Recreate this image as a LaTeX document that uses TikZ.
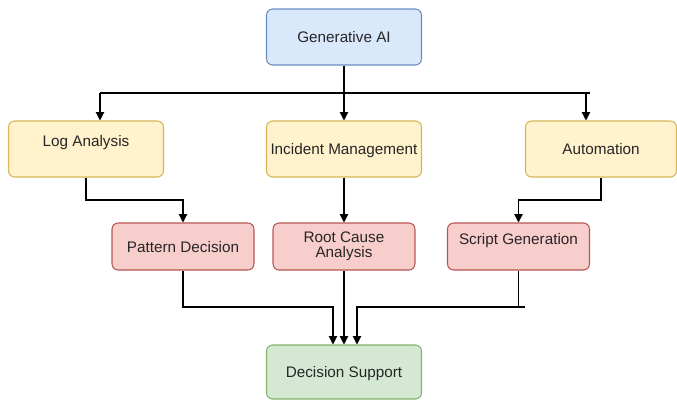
\documentclass[tikz,border=0pt]{standalone}
\usepackage{fontspec}
\setmainfont{Liberation Sans}
\usetikzlibrary{arrows.meta}
\definecolor{blueF}{HTML}{DAE8FC}\definecolor{blueD}{HTML}{6C8EBF}
\definecolor{yelF}{HTML}{FFF2CC}\definecolor{yelD}{HTML}{D6B656}
\definecolor{redF}{HTML}{F8CECC}\definecolor{redD}{HTML}{B85450}
\definecolor{grnF}{HTML}{D5E8D4}\definecolor{grnD}{HTML}{82B366}
\begin{document}
\begin{tikzpicture}[x=0.02cm,y=-0.02cm,
  box/.style={draw, rounded corners=3.5pt, line width=0.6pt, align=center,
    font=\fontsize{8.7}{8.6}\selectfont, text=black!85, inner sep=1pt},
  big/.style={box, minimum width=3.1cm, minimum height=1.12cm},
  small/.style={box, minimum width=2.84cm, minimum height=0.94cm},
  one/.style={text height=6.4pt, text depth=0pt},
  high/.style={text height=6.4pt, text depth=#1},
  arr/.style={-{Triangle[length=4.8pt,width=4.8pt]}, line width=0.6pt}]
\useasboundingbox (0,0) rectangle (677,400);
%
\node[big, fill=blueF, draw=blueD, one] (gen) at (344,37) {Generative AI};
%
\node[big, fill=yelF, draw=yelD, high=9pt] (log) at (86,149) {Log Analysis};
\node[big, fill=yelF, draw=yelD, one] (inc) at (344,149) {Incident Management};
\node[big, fill=yelF, draw=yelD, one, minimum width=3.02cm] (aut) at (601,149) {Automation};
%
\node[small, fill=redF, draw=redD, one] (pat) at (183,246.5) {Pattern Decision};
\node[small, fill=redF, draw=redD] (rca) at (344,246.5) {Root Cause\\Analysis};
\node[small, fill=redF, draw=redD, high=8.5pt] (scr) at (518.5,246.5) {Script Generation};
%
\node[big, fill=grnF, draw=grnD, one, minimum height=1.08cm] (dec) at (344,372) {Decision Support};
%
\coordinate (busL) at (100,93);
\coordinate (busR) at (590,93);
\draw[line width=0.6pt] (busL) -- (busR);
\draw[arr] (gen) -- (inc);
\draw[arr] (busL) -- (busL |- log.north);
\draw[arr] (586,93) -- (aut.north -| 586,0);
%
\draw[arr] (log.south) -- (log.south |- 0,200) -| (pat.north);
\draw[arr] (inc) -- (rca);
\draw[arr] (aut.south) -- (aut.south |- 0,200) -| (scr.north);
%
\draw[arr] (pat.south) |- (333,307) -- (dec.north -| 333,0);
\draw[arr] (rca.south) -- (rca.south |- dec.north);
\draw[line width=0.6pt] (scr.south) |- (525,307);
\draw[arr] (scr.south |- 0,307) -- (357,307) -- (dec.north -| 357,0);
%
\end{tikzpicture}
\end{document}
